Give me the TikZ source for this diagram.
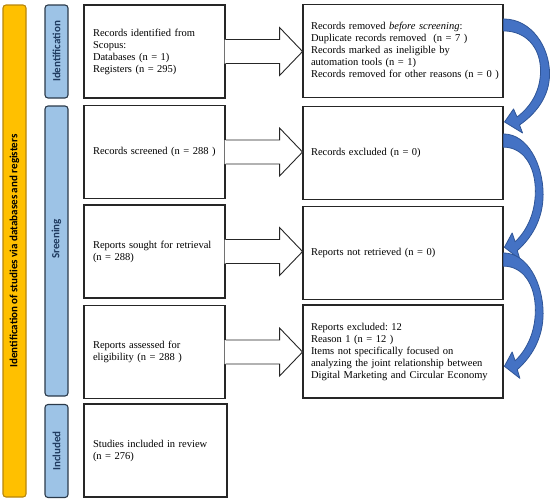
\documentclass[tikz,border=0pt]{standalone}
\usepackage{fontspec}
\setmainfont{Liberation Serif}
\newfontfamily\barfont{Carlito}
\frenchspacing

\definecolor{goldbar}{HTML}{FFC000}
\definecolor{goldedge}{HTML}{B8860B}
\definecolor{phaseblue}{HTML}{9DC3E6}
\definecolor{phaseedge}{HTML}{2B3A4A}
\definecolor{phasetext}{HTML}{1F3A5F}
\definecolor{arrowblue}{HTML}{4472C4}
\definecolor{arrowedge}{HTML}{2F5597}

\tikzset{
  stagebox/.style={draw=black!85, line width=1.1pt, fill=white, minimum height=93,
    inner xsep=9, inner ysep=2, align=left, font=\fontsize{10.5}{12}\selectfont},
  leftbox/.style={stagebox, text width=123},
  rightbox/.style={stagebox, text width=184, inner xsep=8},
  sidebar/.style={rotate=90, draw=goldedge, fill=goldbar, line width=1.1pt, rounded corners=3pt,
    minimum height=23, inner sep=0, font=\barfont\bfseries\fontsize{11}{12}\selectfont},
  phasebar/.style={rotate=90, draw=phaseedge, fill=phaseblue, line width=1.1pt, rounded corners=3pt,
    minimum height=23, inner sep=0, text=phasetext, font=\barfont\bfseries\fontsize{11}{12}\selectfont},
  gateline/.style={draw=black!85, line width=0.9pt, line join=miter},
  bendarrow/.style={fill=arrowblue, draw=arrowedge, line width=0.8pt, line join=round},
  pics/gate/.style={code={
    \fill[white] (-1,12) -- (54,12) -- (54,24) -- (77,0) -- (54,-24) -- (54,-12) -- (-1,-12) -- cycle;
    \draw[gateline] (0,12) -- (54,12) -- (54,24) -- (77,0) -- (54,-24) -- (54,-12) -- (0,-12);
  }},
  pics/bend/.style={code={
    \filldraw[bendarrow] (0,0) .. controls (28,0) and (46,-28) .. (46,-55)
      .. controls (46,-78) and (32,-95) .. (16,-106) -- (19,-114) -- (1,-103) -- (10,-90) -- (13.5,-98)
      .. controls (27,-88) and (37,-72) .. (37,-52)
      .. controls (37,-28) and (22,-12) .. (0,-12) -- cycle;
  }}
}

\begin{document}
\begin{tikzpicture}[x=1pt, y=1pt]
\useasboundingbox (0,0) rectangle (550,-501);

% side bars
\node[sidebar, minimum width=492] (idbar) at (14.5,-251) {Identification of studies via databases and registers};
\node[phasebar, minimum width=93] (identbar) at (56.5,-51.5) {Identification};
\node[phasebar, minimum width=290] (screenbar) at (56.5,-251) {\hspace{24pt}Sreening};
\node[phasebar, minimum width=93] (inclbar) at (56.5,-451) {Included};

% left column
\node[leftbox] (l1) at (154.5,-51.5) {Records identified from\\Scopus:\\Databases (n = 1)\\Registers (n = 295)};
\node[leftbox] (l2) at (154.5,-152) {Records screened (n = 288 )};
\node[leftbox] (l3) at (154.5,-251.5) {Reports sought for retrieval\\(n = 288)};
\node[leftbox] (l4) at (154.5,-352) {Reports assessed for\\eligibility (n = 288 )};
\node[leftbox, text width=125] (l5) at (155.5,-450.5) {Studies included in review\\(n = 276)};

% right column
\node[rightbox] (r1) at (403,-51) {Records removed \textit{before screening}:\\Duplicate records removed~ (n = 7 )\\Records marked as ineligible by\\automation tools (n = 1)\\\mbox{Records removed for other reasons (n = 0 )}};
\node[rightbox] (r2) at (403,-153) {Records excluded (n = 0)};
\node[rightbox] (r3) at (403,-253) {Reports not retrieved (n = 0)};
\node[rightbox] (r4) at (403,-351.5) {Reports excluded: 12\\Reason 1 (n = 12 )\\Items not specifically focused on\\analyzing the joint relationship between\\Digital Marketing and Circular Economy};

% block arrows
\pic at (l1.east) {gate};
\pic at (l2.east) {gate};
\pic at (l3.east) {gate};
\pic at (l4.east) {gate};

% curved arrows
\pic at ([yshift=-15pt]r1.north east) {bend};
\pic[xscale=0.86, yscale=1.1] at ([yshift=-28pt]r2.north east) {bend};
\pic[xscale=0.86, yscale=1.1] at ([yshift=-47pt]r3.north east) {bend};
\end{tikzpicture}
\end{document}
